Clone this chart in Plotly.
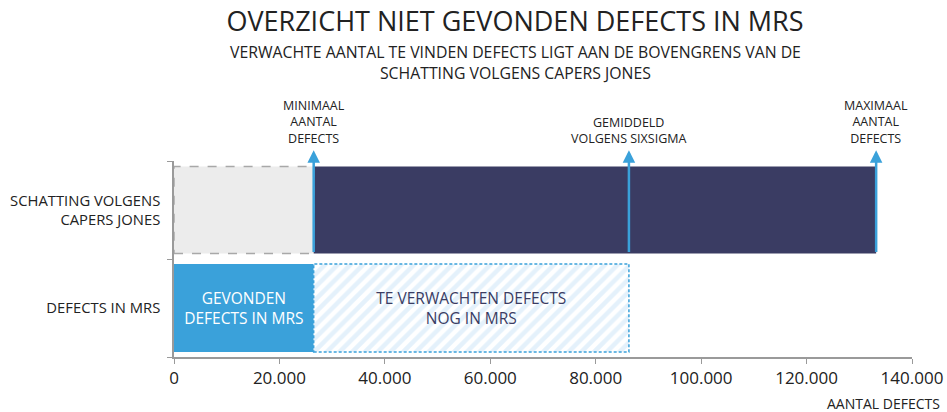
import plotly.graph_objects as go

# waarden
categorieen = ["DEFECTS IN MRS", "SCHATTING VOLGENS<br>CAPERS JONES"]
gevonden = 26500
minimaal = 26500
gemiddeld = 86300
maximaal = 133200
x_ticks = [0, 20000, 40000, 60000, 80000, 100000, 120000, 140000]

font = "Open Sans"
blauw = "#3aa1da"
navy = "#3a3c63"

# plotgebied in pixels
L, R, T, B = 174, 35, 161, 55
pw, ph = 947 - L - R, 412 - T - B

fig = go.Figure()

# bovenste balk: schatting capers jones
fig.add_trace(go.Bar(y=[1], x=[minimaal], base=[0], orientation="h", width=0.89,
                     marker=dict(color="#ececec", line=dict(width=0)), hoverinfo="skip"))
fig.add_trace(go.Bar(y=[1], x=[maximaal - minimaal], base=[minimaal], orientation="h", width=0.89,
                     marker=dict(color=navy, line=dict(width=0)), hoverinfo="skip"))

# onderste balk: defects in mrs
fig.add_trace(go.Bar(y=[0], x=[gevonden], base=[0], orientation="h", width=0.9,
                     marker=dict(color=blauw, line=dict(width=0)),
                     text=["GEVONDEN<br>DEFECTS IN MRS"], textposition="inside",
                     insidetextanchor="middle", textangle=0,
                     textfont=dict(family=font, size=15.5, color="white"), hoverinfo="skip"))
fig.add_trace(go.Bar(y=[0], x=[gemiddeld - gevonden], base=[gevonden], orientation="h", width=0.9,
                     marker=dict(color="white", line=dict(width=0),
                                 pattern=dict(shape="/", fgcolor="#c9e3f7", bgcolor="white",
                                              size=9, solidity=0.5)),
                     text=["TE VERWACHTEN DEFECTS<br>NOG IN MRS"], textposition="inside",
                     insidetextanchor="middle", textangle=0,
                     textfont=dict(family=font, size=15.5, color=navy), hoverinfo="skip"))

# gestippelde randen
fig.add_shape(type="rect", x0=0, x1=minimaal, y0=1 - 0.445, y1=1 + 0.445, xref="x", yref="y",
              line=dict(color="#a8a8a8", width=1.5, dash="dash"), layer="above")
fig.add_shape(type="rect", x0=gevonden, x1=gemiddeld, y0=-0.45, y1=0.45, xref="x", yref="y",
              line=dict(color=blauw, width=1.5, dash="3px,2px"), layer="above")

# pijlen
pijlen = [(minimaal, "MINIMAAL<br>AANTAL<br>DEFECTS"),
          (gemiddeld, "GEMIDDELD<br>VOLGENS SIXSIGMA"),
          (maximaal, "MAXIMAAL<br>AANTAL<br>DEFECTS")]
for xv, label in pijlen:
    fig.add_annotation(x=xv, y=1.61, ax=xv, ay=0.555, xref="x", yref="y", axref="x", ayref="y",
                       showarrow=True, arrowhead=2, arrowsize=1, arrowwidth=2.5,
                       arrowcolor=blauw, text="")
    fig.add_annotation(x=xv, y=1 + (T - 149) / ph, xref="x", yref="paper", text=label,
                       showarrow=False, yanchor="bottom", align="center",
                       font=dict(family=font, size=12.5, color="#222222"))

fig.update_layout(
    width=947, height=412,
    margin=dict(l=L, r=R, t=T, b=B),
    paper_bgcolor="white", plot_bgcolor="white",
    showlegend=False, barmode="overlay", separators=",.",
    title=dict(text="OVERZICHT NIET GEVONDEN DEFECTS IN MRS", x=515 / 947, xanchor="center",
               y=1 - 12 / 412, yanchor="top", font=dict(family=font, size=27, color="#222222")),
    font=dict(family=font, color="#222222"),
)
fig.add_annotation(x=(515 - L) / pw, y=1 + (T - 39) / ph, xref="paper", yref="paper",
                   yanchor="top", showarrow=False, align="center",
                   text="VERWACHTE AANTAL TE VINDEN DEFECTS LIGT AAN DE BOVENGRENS VAN DE<br>"
                        "SCHATTING VOLGENS CAPERS JONES",
                   font=dict(family=font, size=15.8, color="#222222"))
fig.add_annotation(x=(942 - L) / pw, y=-(403 - (412 - B)) / ph, xref="paper", yref="paper",
                   xanchor="right", yanchor="middle", showarrow=False, text="AANTAL DEFECTS",
                   font=dict(family=font, size=14, color="#222222"))

fig.update_xaxes(range=[0, 140000], tickvals=x_ticks, tickformat=",d", automargin=False,
                 showline=True, linecolor="#9a9a9a", linewidth=1.5,
                 ticks="outside", ticklen=5, tickcolor="#9a9a9a", showgrid=False, zeroline=False,
                 tickfont=dict(family=font, size=17, color="#222222"))
fig.update_yaxes(range=[-0.5, 1.5], tickvals=[0, 1], ticktext=categorieen, ticks="",
                 automargin=False,
                 showline=True, linecolor="#9a9a9a", linewidth=1.5, showgrid=False, zeroline=False,
                 minor=dict(tick0=0.5, dtick=1, ticks="outside", ticklen=5, tickcolor="#9a9a9a"),
                 ticklabelstandoff=9,
                 tickfont=dict(family=font, size=14.8, color="#222222"))

fig.write_html("out.html", config={"displayModeBar": False},
               post_script="document.body.style.margin='0';")
